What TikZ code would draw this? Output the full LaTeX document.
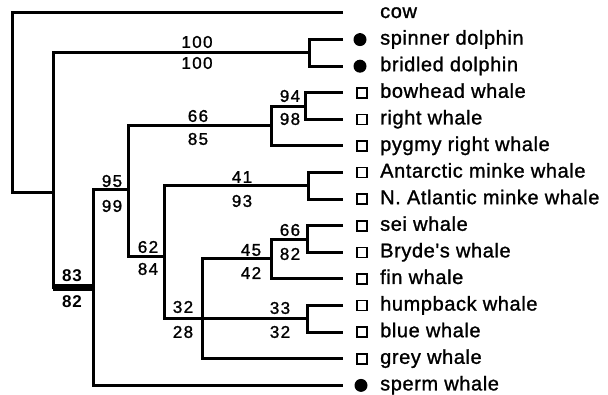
\documentclass[tikz,border=0pt]{standalone}
\usepackage{fontspec}
\setmainfont{Liberation Sans}
\newfontfamily\leaffont[LetterSpace=3,FakeBold=1.2]{Liberation Sans}
\newfontfamily\numfont[LetterSpace=8,FakeBold=1.2]{Liberation Sans}
\newfontfamily\numbfont[LetterSpace=6]{Liberation Sans Bold}
\begin{document}
\begin{tikzpicture}[x=1pt,y=-1pt,
  br/.style={line width=3pt,line join=miter,line cap=butt},
  thickbr/.style={line width=7pt,line cap=butt},
  leaf/.style={anchor=base west,inner sep=0pt,font=\leaffont\fontsize{20}{20}\selectfont},
  num/.style={anchor=center,inner sep=0pt,font=\numfont\fontsize{17}{17}\selectfont},
  bnum/.style={anchor=center,inner sep=0pt,font=\numbfont\fontsize{17}{17}\selectfont},
  dot/.style={circle,fill=black,inner sep=0pt,minimum size=13pt},
  box/.style={rectangle,draw=black,line width=1.5pt,fill=white,inner sep=0pt,minimum size=10pt}]
\useasboundingbox (0,0) rectangle (608,395);
% tips
\def\tipx{343}
\coordinate (t0) at (\tipx,13);
\coordinate (t1) at (\tipx,39.6);
\coordinate (t2) at (\tipx,66.2);
\coordinate (t3) at (\tipx,92.8);
\coordinate (t4) at (\tipx,119.4);
\coordinate (t5) at (\tipx,146);
\coordinate (t6) at (\tipx,172.6);
\coordinate (t7) at (\tipx,199.2);
\coordinate (t8) at (\tipx,225.8);
\coordinate (t9) at (\tipx,252.4);
\coordinate (t10) at (\tipx,279);
\coordinate (t11) at (\tipx,305.6);
\coordinate (t12) at (\tipx,332.2);
\coordinate (t13) at (\tipx,358.8);
\coordinate (t14) at (\tipx,385.4);
% internal nodes
\coordinate (R) at (12,103);
\coordinate (A) at (53,193);
\coordinate (B) at (93,288);
\coordinate (C) at (128,190);
\coordinate (D) at (271,126);
\coordinate (E) at (305,106.1);
\coordinate (Dol) at (309,52.9);
\coordinate (F) at (164,257);
\coordinate (M) at (308,185.9);
\coordinate (G) at (202,318.9);
\coordinate (H) at (271,259);
\coordinate (SB) at (307,239.1);
\coordinate (HB) at (307,318.9);
% branches
\draw[br] (t0) -| (R) |- (A);
\draw[br] (Dol) -| (A) |- (B);
\draw[thickbr] (A|-B) -- (B);
\draw[br] (t1) -| (Dol) |- (t2);
\draw[br] (C) -| (B) |- (t14);
\draw[br] (D) -| (C) |- (F);
\draw[br] (E) -| (D) |- (t5);
\draw[br] (t3) -| (E) |- (t4);
\draw[br] (M) -| (F) |- (G);
\draw[br] (t6) -| (M) |- (t7);
\draw[br] (H) -| (G) |- (t13);
\draw[br] (G) -- (HB);
\draw[br] (SB) -| (H) |- (t10);
\draw[br] (t8) -| (SB) |- (t9);
\draw[br] (t11) -| (HB) |- (t12);
% markers
\node[dot] (k1) at (360,39.6) {};
\node[dot] (k2) at (360,66.2) {};
\node[box] (k3) at (362,92.8) {};
\node[box] (k4) at (362,119.4) {};
\node[box] (k5) at (362,146) {};
\node[box] (k6) at (362,172.6) {};
\node[box] (k7) at (362,199.2) {};
\node[box] (k8) at (362,225.8) {};
\node[box] (k9) at (362,252.4) {};
\node[box] (k10) at (362,279) {};
\node[box] (k11) at (362,305.6) {};
\node[box] (k12) at (362,332.2) {};
\node[box] (k13) at (362,358.8) {};
\node[dot] (k14) at (361,385.4) {};
% leaf names
\node[leaf] (n0) at (380,18) {cow};
\node[leaf] (n1) at (380,44.6) {spinner dolphin};
\node[leaf] (n2) at (380,71.2) {bridled dolphin};
\node[leaf] (n3) at (380,97.8) {bowhead whale};
\node[leaf] (n4) at (380,124.4) {right whale};
\node[leaf] (n5) at (380,151.0) {pygmy right whale};
\node[leaf] (n6) at (380,177.6) {Antarctic minke whale};
\node[leaf] (n7) at (380,204.2) {N. Atlantic minke whale};
\node[leaf] (n8) at (380,230.8) {sei whale};
\node[leaf] (n9) at (380,257.4) {Bryde's whale};
\node[leaf] (n10) at (380,284.0) {fin whale};
\node[leaf] (n11) at (380,310.6) {humpback whale};
\node[leaf] (n12) at (380,337.2) {blue whale};
\node[leaf] (n13) at (380,363.8) {grey whale};
\node[leaf] (n14) at (380,390.4) {sperm whale};
% support values
\node[num] (s1a) at (197,42) {100};
\node[num] (s1b) at (197,63) {100};
\node[num] (s2a) at (198,116) {66};
\node[num] (s2b) at (198,139) {85};
\node[num] (s3a) at (290,96) {94};
\node[num] (s3b) at (290,119) {98};
\node[num] (s4a) at (112,181) {95};
\node[num] (s4b) at (112,206) {99};
\node[num] (s5a) at (242,177) {41};
\node[num] (s5b) at (242,201) {93};
\node[num] (s6a) at (148,247) {62};
\node[num] (s6b) at (148,269) {84};
\node[bnum] (s7a) at (72,276) {83};
\node[bnum] (s7b) at (72,302) {82};
\node[num] (s8a) at (251,250) {45};
\node[num] (s8b) at (251,273) {42};
\node[num] (s9a) at (290,230) {66};
\node[num] (s9b) at (290,254) {82};
\node[num] (s10a) at (183,307) {32};
\node[num] (s10b) at (183,332) {28};
\node[num] (s11a) at (280,308) {33};
\node[num] (s11b) at (280,332) {32};
\end{tikzpicture}
\end{document}
